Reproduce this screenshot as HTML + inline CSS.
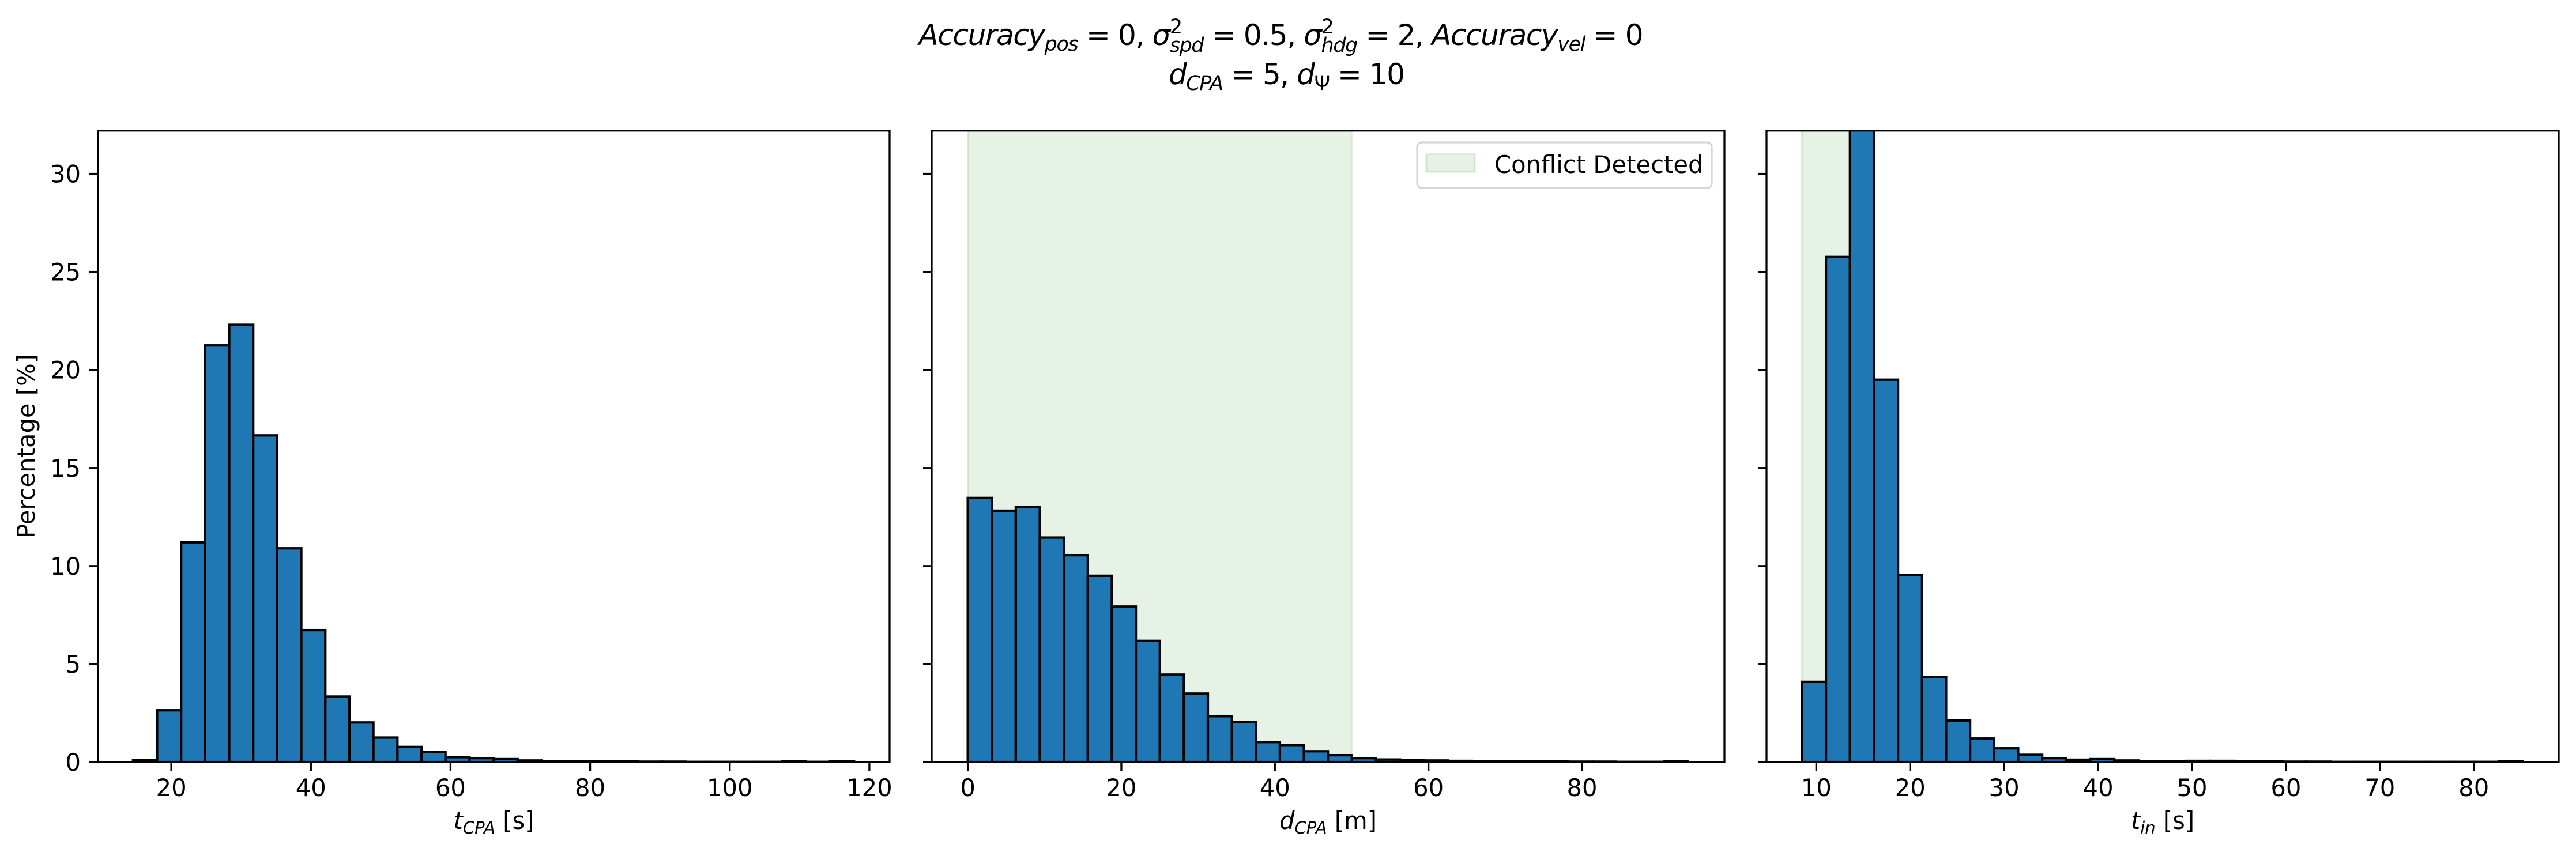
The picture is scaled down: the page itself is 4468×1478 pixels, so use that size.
<!DOCTYPE html>
<html><head><meta charset="utf-8"><style>
html,body{margin:0;padding:0;background:#fff}
svg{display:block;font-family:"DejaVu Sans","Liberation Sans",sans-serif}
</style></head><body>
<svg id="fig" width="4468" height="1478" viewBox="0 0 4468 1478" xmlns="http://www.w3.org/2000/svg">
<rect width="4468" height="1478" fill="#fff"/>
<text x="2222" y="78" font-size="50" text-anchor="middle" textLength="1257" lengthAdjust="spacing"><tspan font-style="italic">Accuracy</tspan><tspan font-style="italic" font-size="35" dy="10">pos</tspan><tspan dy="-10"> = 0, </tspan><tspan font-style="italic">σ</tspan><tspan font-size="35" dy="-20">2</tspan><tspan font-style="italic" font-size="35" dx="-21" dy="32">spd</tspan><tspan dy="-12"> = 0.5, </tspan><tspan font-style="italic">σ</tspan><tspan font-size="35" dy="-20">2</tspan><tspan font-style="italic" font-size="35" dx="-21" dy="32">hdg</tspan><tspan dy="-12"> = 2, </tspan><tspan font-style="italic">Accuracy</tspan><tspan font-style="italic" font-size="35" dy="10">vel</tspan><tspan dy="-10"> = 0</tspan></text>
<text x="2232" y="146" font-size="50" text-anchor="middle" textLength="410" lengthAdjust="spacing"><tspan font-style="italic">d</tspan><tspan font-style="italic" font-size="35" dy="10">CPA</tspan><tspan dy="-10"> = 5, </tspan><tspan font-style="italic">d</tspan><tspan font-size="35" dy="10">Ψ</tspan><tspan dy="-10"> = 10</tspan></text>
<g id="plots"></g>
</svg>
<script>
// Panel 1: t_CPA histogram
const tcpaStart = 14.52;
const tcpaWidth = 3.443;
const tcpaValues = [0.1,2.64,11.2,21.25,22.3,16.66,10.9,6.73,3.34,2.02,1.25,0.77,0.52,0.25,0.2,0.15,0.08,0.04,0.04,0.03,0.03,0.02,0.02,0.01,0.01,0.01,0.01,0.03,0.01,0.03];
const tcpaTicks = [20,40,60,80,100,120];
// Panel 2: d_CPA histogram
const dcpaStart = 0;
const dcpaWidth = 3.127;
const dcpaValues = [13.47,12.82,13.02,11.45,10.55,9.5,7.93,6.18,4.46,3.49,2.34,2.04,1.02,0.87,0.55,0.35,0.2,0.13,0.1,0.08,0.06,0.04,0.04,0.03,0.03,0.02,0.02,0.01,0.01,0.05];
const dcpaTicks = [0,20,40,60,80];
const dcpaSpan = [0,50];
// Panel 3: t_in histogram
const tinStart = 8.47;
const tinWidth = 2.558;
const tinValues = [4.09,25.76,33.5,19.5,9.53,4.34,2.12,1.2,0.7,0.37,0.2,0.12,0.15,0.08,0.05,0.04,0.06,0.06,0.05,0.03,0.02,0.02,0.01,0.01,0.01,0.01,0.01,0.01,0.01,0.04];
const tinTicks = [10,20,30,40,50,60,70,80];
const tinSpan = [8.47,15];
const yTicks = [0,5,10,15,20,25,30];

const NS = 'http://www.w3.org/2000/svg';
const root = document.getElementById('plots');
function mk(tag, attrs, parent){const e=document.createElementNS(NS,tag);for(const k in attrs)e.setAttribute(k,attrs[k]);(parent||root).appendChild(e);return e;}
const Y0=1322, Y1=226.7, YMAX=32.2;
function ys(v){return Y0-(v/YMAX)*(Y0-Y1);}

const panels=[
 {name:'tcpa',L:170,R:1543,xmin:9.5,xmax:122.9,start:tcpaStart,w:tcpaWidth,vals:tcpaValues,ticks:tcpaTicks,label:['t','CPA',' [s]'],ylabels:true},
 {name:'dcpa',L:1616,R:2991,xmin:-4.7,xmax:98.55,start:dcpaStart,w:dcpaWidth,vals:dcpaValues,ticks:dcpaTicks,label:['d','CPA',' [m]'],span:dcpaSpan,legend:true},
 {name:'tin',L:3064,R:4438,xmin:4.7,xmax:89.04,start:tinStart,w:tinWidth,vals:tinValues,ticks:tinTicks,label:['t','in',' [s]'],span:tinSpan}
];
panels.forEach(p=>{
 const g=mk('g',{});
 
 
 const xs=v=>p.L+(v-p.xmin)/(p.xmax-p.xmin)*(p.R-p.L);
 const clipId='clip-'+p.name;
 const cp=mk('clipPath',{id:clipId},g);
 mk('rect',{x:p.L,y:Y1,width:p.R-p.L,height:Y0-Y1},cp);
 if(p.span){
  const s=mk('rect',{x:xs(p.span[0]),y:Y1,width:xs(p.span[1])-xs(p.span[0]),height:Y0-Y1,fill:'#008000','fill-opacity':0.1,stroke:'#008000','stroke-opacity':0.12,'stroke-width':3},g);
  
  
 }
 const bg=mk('g',{'clip-path':'url(#'+clipId+')'},g);
 p.vals.forEach((v,i)=>{
  const x0=xs(p.start+i*p.w), x1=xs(p.start+(i+1)*p.w);
  const r=mk('rect',{x:x0,y:ys(v),width:x1-x0,height:Y0-ys(v),fill:'#1f77b4',stroke:'#000','stroke-width':4.2},bg);
  
  
 });
 const f=mk('rect',{x:p.L,y:Y1,width:p.R-p.L,height:Y0-Y1,fill:'none',stroke:'#000','stroke-width':3.3},g);
 
 
 p.ticks.forEach(t=>{
  const x=xs(t);
  mk('line',{x1:x,x2:x,y1:Y0,y2:Y0+15,stroke:'#000','stroke-width':3.3},g);
  const tx=mk('text',{x:x,y:1381,'font-size':41.7,'text-anchor':'middle'},g);
  tx.textContent=t;
  
  
 });
 yTicks.forEach(t=>{
  const y=ys(t);
  mk('line',{x1:p.L-15,x2:p.L,y1:y,y2:y,stroke:'#000','stroke-width':3.3},g);
  if(p.ylabels){
   const tx=mk('text',{x:p.L-30,y:y+15,'font-size':41.7,'text-anchor':'end'},g);
   tx.textContent=t;
   
   
  }
 });
 const xl=mk('text',{x:(p.L+p.R)/2,y:1438,'font-size':41.7,'text-anchor':'middle'},g);
 
 
 const a=mk('tspan',{'font-style':'italic'},xl);a.textContent=p.label[0];
 const b=mk('tspan',{'font-style':'italic','font-size':29,dy:8},xl);b.textContent=p.label[1];
 const c=mk('tspan',{dy:-8},xl);c.textContent=p.label[2];
 if(p.legend){
  const lg=mk('g',{},g);
  
  
  mk('rect',{x:2458,y:247,width:511,height:79,rx:8,fill:'#fff','fill-opacity':0.8,stroke:'#d6d6d6','stroke-width':3.3},lg);
  mk('rect',{x:2474,y:267,width:84,height:31,fill:'#008000','fill-opacity':0.1,stroke:'#008000','stroke-opacity':0.12,'stroke-width':3},lg);
  const lt=mk('text',{x:2592,y:300,'font-size':41.7},lg);
  lt.textContent='Conflict Detected';
  
  
 }
});
const yl=mk('text',{x:0,y:0,'font-size':41.7,'text-anchor':'middle',transform:'translate(60,774) rotate(-90)'});
yl.textContent='Percentage [%]';


</script>
</body></html>
